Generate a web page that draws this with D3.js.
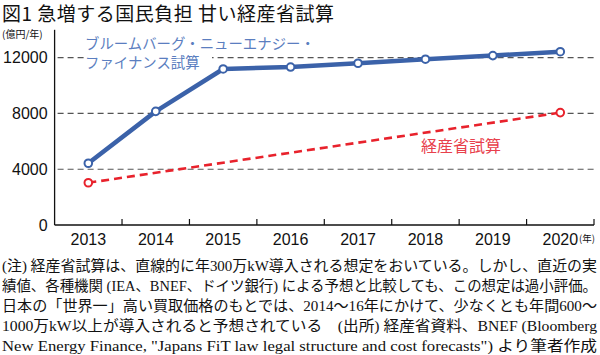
<!DOCTYPE html>
<html><head><meta charset="utf-8">
<script src="https://cdn.jsdelivr.net/npm/d3@7"></script>
<style>
html,body{margin:0;padding:0;background:#fff;}
svg{display:block;}
</style></head>
<body>
<svg id="chart" width="600" height="355"></svg>
<script>
const years = ["2013","2014","2015","2016","2017","2018","2019","2020"];
const bnefValues = [4430, 8150, 11190, 11330, 11600, 11890, 12150, 12430];
const metiYears = ["2013","2020"];
const metiValues = [3030, 8060];
const yTicks = [0, 4000, 8000, 12000];
const title = "図1 急増する国民負担 甘い経産省試算";
const unitLabel = "(億円/年)";
const xUnit = "(年)";
const bnefLabel = ["ブルームバーグ・ニューエナジー・", "ファイナンス試算"];
const metiLabel = "経産省試算";
const notes = [
  "(注) 経産省試算は、直線的に年300万kW導入される想定をおいている。しかし、直近の実",
  "績値、各種機関 (IEA、BNEF、ドイツ銀行) による予想と比較しても、この想定は過小評価。",
  "日本の「世界一」高い買取価格のもとでは、2014～16年にかけて、少なくとも年間600～",
  "1000万kW以上が導入されると予想されている　(出所) 経産省資料、BNEF (Bloomberg",
  "New Energy Finance, \"Japans FiT law legal structure and cost forecasts\") より筆者作成"
];

(function(){
const svg = d3.select("#chart");
const pL = 54.6, pR = 594, pT = 29.8, pB = 225;
const x = d3.scaleBand().domain(years).range([pL, pR]).padding(0);
const y = d3.scaleLinear().domain([0, 14000]).range([pB, pT]);
const cx = d => x(d) + x.bandwidth() / 2;
const blue = "#3b62a9", red = "#e8222c";

svg.append("text").attr("x", 2).attr("y", 21)
  .attr("font-family", "'Noto Sans CJK JP', sans-serif").attr("font-size", 19)
  .attr("fill", "#111").attr("textLength", 332).attr("lengthAdjust", "spacing").text(title);

svg.append("text").attr("x", 2).attr("y", 38)
  .attr("font-family", "'Noto Sans CJK JP', sans-serif").attr("font-size", 10)
  .attr("fill", "#111").text(unitLabel);

svg.append("g").selectAll("line").data(yTicks.filter(d => d > 0)).join("line")
  .attr("x1", pL + 3).attr("x2", pR)
  .attr("y1", d => y(d)).attr("y2", d => y(d))
  .attr("stroke", "#555").attr("stroke-width", 1.2).attr("stroke-dasharray", "6,4");

const yAxis = d3.axisLeft(y).tickValues(yTicks).tickSize(0).tickPadding(7).tickFormat(d3.format("d"));
const gy = svg.append("g").attr("transform", `translate(${pL},0)`).call(yAxis);
gy.select(".domain").remove();
gy.selectAll("text").attr("font-family", "'Liberation Sans', Arial, sans-serif").attr("font-size", 16).attr("fill", "#111");
svg.append("line").attr("x1", pL).attr("x2", pL).attr("y1", pT).attr("y2", pB)
  .attr("stroke", "#111").attr("stroke-width", 1.3);

const xAxis = d3.axisBottom(x).tickSize(0).tickPadding(9);
const gx = svg.append("g").attr("transform", `translate(0,${pB})`).call(xAxis);
gx.select(".domain").remove();
gx.selectAll("text").attr("font-family", "'Liberation Sans', Arial, sans-serif").attr("font-size", 16).attr("fill", "#111");
svg.append("line").attr("x1", pL).attr("x2", pR).attr("y1", pB).attr("y2", pB)
  .attr("stroke", "#111").attr("stroke-width", 1.3);
svg.append("g").selectAll("line").data(years).join("line")
  .attr("x1", d => x(d) + x.bandwidth()).attr("x2", d => x(d) + x.bandwidth())
  .attr("y1", pB).attr("y2", pB - 6).attr("stroke", "#111").attr("stroke-width", 1.2);
svg.append("text").attr("x", pR + 1).attr("y", 242).attr("text-anchor", "end")
  .attr("font-family", "'Noto Sans CJK JP', sans-serif").attr("font-size", 9.5)
  .attr("fill", "#111").text(xUnit);

svg.append("rect").attr("x", 84).attr("y", 53).attr("width", 128).attr("height", 18).attr("fill", "#fff");
svg.append("g").selectAll("text").data(bnefLabel).join("text")
  .attr("x", 85).attr("y", (d, i) => 49 + i * 19)
  .attr("font-family", "'Noto Sans CJK JP', sans-serif").attr("font-size", 14.4)
  .attr("fill", "#5b7ec0").text(d => d);

const metiData = metiYears.map((d, i) => ({year: d, v: metiValues[i]}));
const line = d3.line().x(d => cx(d.year)).y(d => y(d.v));
svg.append("path").datum(metiData).attr("d", line)
  .attr("fill", "none").attr("stroke", red).attr("stroke-width", 2.6).attr("stroke-dasharray", "8,5");
svg.append("g").selectAll("circle").data(metiData).join("circle")
  .attr("cx", d => cx(d.year)).attr("cy", d => y(d.v)).attr("r", 3.8)
  .attr("fill", "#fff").attr("stroke", red).attr("stroke-width", 2);
svg.append("text").attr("x", 421).attr("y", 152)
  .attr("font-family", "'Noto Sans CJK JP', sans-serif").attr("font-size", 16)
  .attr("fill", "#e8404c").text(metiLabel);

const bnefData = years.map((d, i) => ({year: d, v: bnefValues[i]}));
svg.append("path").datum(bnefData).attr("d", line)
  .attr("fill", "none").attr("stroke", blue).attr("stroke-width", 4.5).attr("stroke-linejoin", "round");
svg.append("g").selectAll("circle").data(bnefData).join("circle")
  .attr("cx", d => cx(d.year)).attr("cy", d => y(d.v)).attr("r", 3.8)
  .attr("fill", "#fff").attr("stroke", blue).attr("stroke-width", 2);

svg.append("g").selectAll("text").data(notes).join("text")
  .attr("x", 2).attr("y", (d, i) => 271 + i * 20)
  .attr("font-family", "'Liberation Serif', 'Noto Sans CJK JP', serif").attr("font-size", 14.5)
  .attr("fill", "#111")
  .attr("textLength", 595).attr("lengthAdjust", "spacingAndGlyphs")
  .text(d => d);
})();
</script>
</body></html>
